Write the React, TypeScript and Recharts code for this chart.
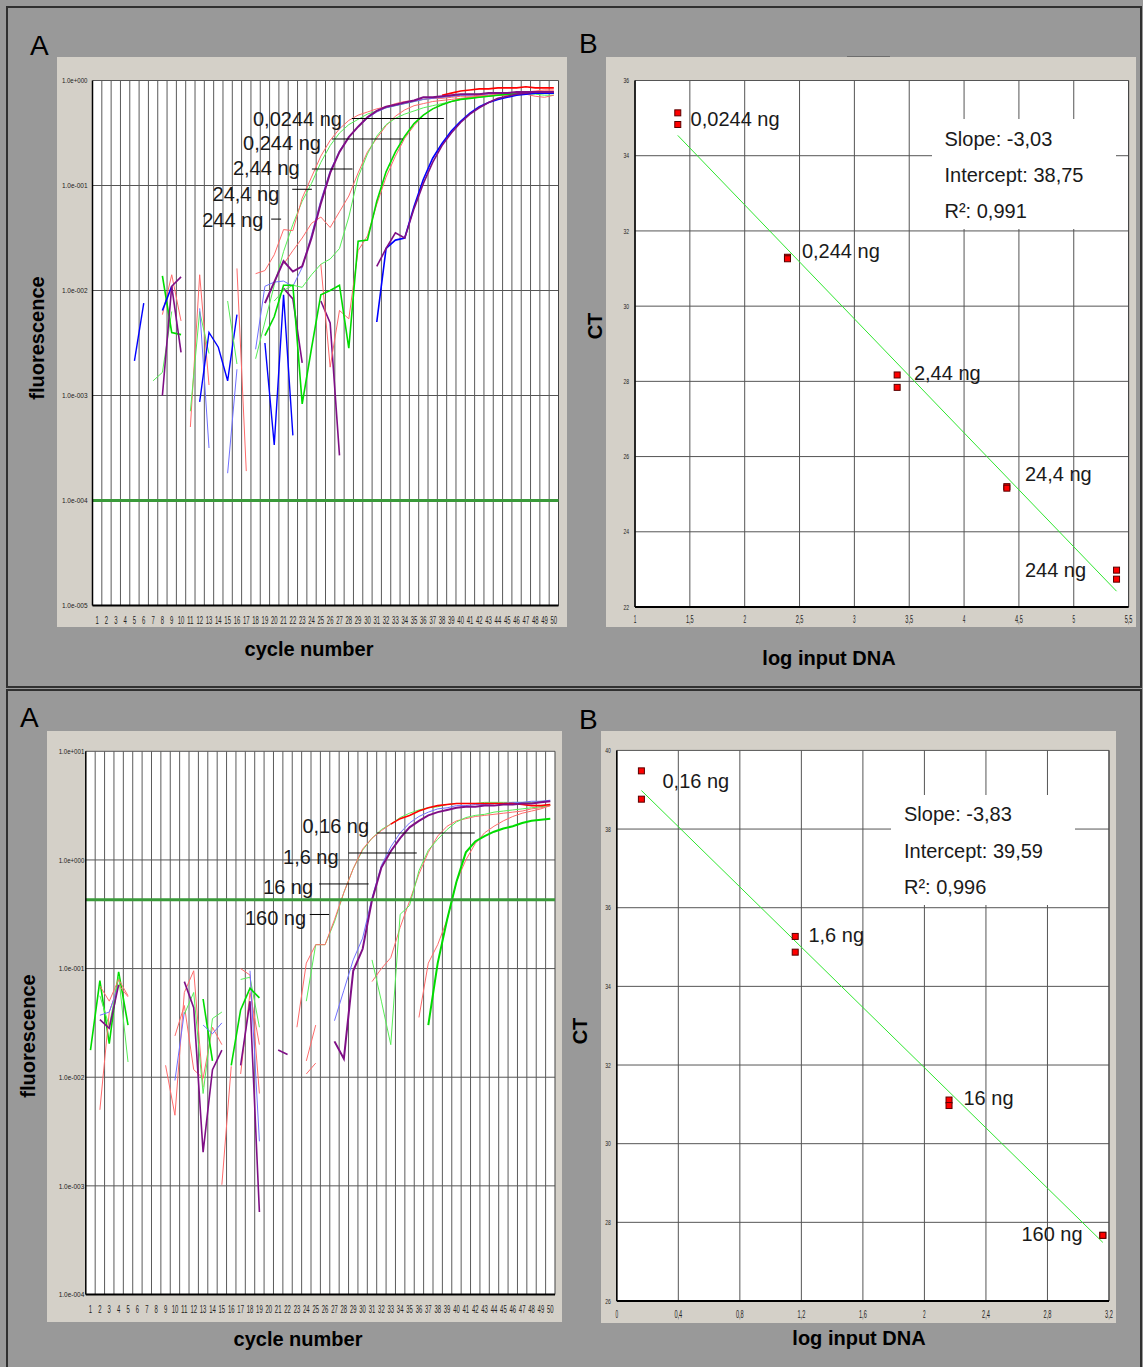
import React from 'react';
import { ComposedChart, Line, Scatter, XAxis, YAxis, CartesianGrid, ReferenceLine } from 'recharts';

const FONT = '"Liberation Sans", Arial, Helvetica, sans-serif';

// ---------- shared categories ----------
const cycles: number[] = Array.from({ length: 50 }, (_, i) => i + 1);
const cycleTickLabels: string[] = cycles.map(String);

// ---------- colours ----------
const RED = '#ff0000';
const RED_T = '#ff6a6a';
const GREEN = '#00dc00';
const GREEN_T = '#55ee55';
const BLUE = '#0000ff';
const BLUE_T = '#6f6fff';
const PURPLE = '#7f0f86';

// =============== TOP PANEL A (amplification, log10 fluorescence) ===============
const topATicks = [1e-5, 1e-4, 1e-3, 1e-2, 1e-1, 1];
const topATickLabels = ['1.0e-005', '1.0e-004', '1.0e-003', '1.0e-002', '1.0e-001', '1.0e+000'];
const topAThreshold = 1e-4;

// main curves (log10 of fluorescence), first value at the given start cycle
const topA_G244 = [-2.65, -2.3, -1.95, -1.63, -1.37, -1.15, -0.98, -0.78, -0.62, -0.5, -0.42, -0.37, -0.32, -0.29, -0.26, -0.24, -0.22, -0.2, -0.18, -0.17, -0.16, -0.15, -0.14, -0.13, -0.13, -0.12, -0.12, -0.12, -0.12, -0.13, -0.13, -0.14, -0.14];
const topA_R244 = [-1.84, -1.81, -1.66, -1.42, -1.43, -1.12, -0.92, -0.72, -0.57, -0.46, -0.38, -0.33, -0.3, -0.27, -0.25, -0.22, -0.2, -0.19, -0.18, -0.17, -0.17, -0.16, -0.15, -0.15, -0.14, -0.14, -0.14, -0.14, -0.13, -0.13, -0.15, -0.16, -0.14];
const topA_P24 = [-2.12, -1.92, -1.72, -1.82, -1.77, -1.5, -1.17, -0.88, -0.68, -0.54, -0.44, -0.35, -0.29, -0.25, -0.23, -0.21, -0.19, -0.16, -0.16, -0.15, -0.14, -0.13, -0.13, -0.13, -0.12, -0.12, -0.12, -0.11, -0.11, -0.11, -0.11, -0.11];
const topA_B24 = [-2.56, -1.96, -1.92, -1.91, -1.96, -1.78, -1.47, -1.14, -0.86, -0.67, -0.54, -0.44, -0.36, -0.3, -0.26, -0.24, -0.22, -0.2, -0.18, -0.17, -0.16, -0.15, -0.14, -0.14, -0.13, -0.13, -0.13, -0.12, -0.12, -0.12, -0.12, -0.12, -0.12];
const topA_R2 = [-1.75, -1.62, -1.5, -1.36, -1.3, -1.4, -1.25, -1.1, -0.88, -0.68, -0.55, -0.43, -0.34, -0.28, -0.24, -0.22, -0.2, -0.19, -0.18, -0.17, -0.16, -0.15, -0.14, -0.13, -0.12, -0.12, -0.11, -0.1, -0.09, -0.09];
const topA_G2 = [-2.1, -2.0, -1.95, -1.97, -1.85, -1.75, -1.7, -1.6, -1.3, -0.92, -0.7, -0.53, -0.42, -0.36, -0.32, -0.29, -0.26, -0.24, -0.22, -0.2, -0.18, -0.17, -0.16, -0.15, -0.14, -0.13, -0.13, -0.12, -0.12, -0.12, -0.12];
const topA_G0244 = [-2.43, -2.25, -1.95, -1.95, -3.08, -2.55, -2.04, -2.0, -1.95, -2.55, -1.53, -1.52, -1.15, -0.87, -0.68, -0.53, -0.41, -0.33, -0.27, -0.23, -0.2, -0.18, -0.17, -0.16, -0.15, -0.14, -0.13, -0.13, -0.12, -0.12, -0.12, -0.12];
const topA_R0244 = [-1.75, -2.73, -2.19, -2.27, -1.62, -1.48, -1.18, -0.92, -0.72, -0.55, -0.43, -0.33, -0.27, -0.23, -0.2, -0.18, -0.16, -0.15, -0.15, -0.14, -0.14, -0.13, -0.12, -0.11, -0.1, -0.1];
const topA_B00244 = [-2.3, -1.6, -1.52, -1.5, -1.2, -0.94, -0.74, -0.6, -0.48, -0.39, -0.31, -0.25, -0.21, -0.18, -0.16, -0.14, -0.13, -0.12, -0.12, -0.12];
const topA_P00244 = [-1.77, -1.6, -1.45, -1.5, -1.22, -0.98, -0.78, -0.62, -0.5, -0.4, -0.32, -0.26, -0.21, -0.17, -0.15, -0.13, -0.12, -0.11, -0.11, -0.11];
const topA_Rtop = [-0.14, -0.12, -0.1, -0.09, -0.08, -0.08, -0.07, -0.07, -0.07, -0.06, -0.07, -0.07, -0.07];

// noisy early fragments
const topA_nBlue1 = [-2.67, -2.12];
const topA_nPurple1 = [-3.0, -1.96, -1.87];
const topA_nPurple2 = [-1.96, -2.59];
const topA_nBlue2 = [-2.19, -1.96];
const topA_nGreen1 = [-1.86, -2.4, -2.42];
const topA_nGreenT1 = [-2.86, -2.78, -2.2];
const topA_nRedT1 = [-2.23, -1.85, -2.29];
const topA_nRedT2 = [-3.3, -1.85, -2.9];
const topA_nGreenT2 = [-3.15, -2.2, -2.6];
const topA_nBlue3 = [-3.06, -2.4, -2.54, -2.86, -2.23];
const topA_nBlueT1 = [-2.17, -3.5];
const topA_nRedT3 = [-1.79, -3.72];
const topA_nBlueT2 = [-3.74, -2.75];
const topA_nGreenT3 = [-2.1, -2.7];
const topA_nBlue4 = [-2.5, -3.47, -2.04, -3.38];
const topA_nPurple3 = [-1.98, -2.08, -2.69];
const topA_nPurple4 = [-2.1, -2.31, -3.57];

// curve annotations
const topALabelText = ['0,0244 ng', '0,244 ng', '2,44 ng', '24,4 ng', '244 ng'];
const topALabelCycle = [27.27, 25.01, 22.73, 20.54, 18.83];
const topALabelLog = [-0.367, -0.595, -0.833, -1.078, -1.329];
const topALeaderFrom = [28.33, 26.19, 24.04, 21.93, 19.67];
const topALeaderTo = [38.2, 33.8, 28.4, 24.04, 20.74];
const topALeaderLog = [-0.362, -0.557, -0.843, -1.036, -1.32];

// =============== TOP PANEL B (standard curve) ===============
const topBX = [1.39, 1.39, 2.39, 2.39, 3.39, 3.39, 4.39, 4.39, 5.39, 5.39];
const topBCT = [35.14, 34.83, 31.3, 31.26, 28.17, 27.84, 25.2, 25.16, 22.98, 22.74];
const topBFitX = [1.39, 5.39];
const topBFitY = [34.54, 22.42];
const topBXTicks = [1, 1.5, 2, 2.5, 3, 3.5, 4, 4.5, 5, 5.5];
const topBXTickLabels = ['1', '1,5', '2', '2,5', '3', '3,5', '4', '4,5', '5', '5,5'];
const topBYTicks = [22, 24, 26, 28, 30, 32, 34, 36];
const topBYTickLabels = ['22', '24', '26', '28', '30', '32', '34', '36'];
const topBLabelText = ['0,0244 ng', '0,244 ng', '2,44 ng', '24,4 ng', '244 ng'];
const topBLabelX = [1.507, 2.522, 3.543, 4.555, 4.555];
const topBLabelY = [34.98, 31.47, 28.22, 25.53, 22.98];
const topBStats = ['Slope: -3,03', 'Intercept: 38,75', 'R\u00b2: 0,991'];

// =============== BOTTOM PANEL A ===============
const botATicks = [1e-4, 1e-3, 1e-2, 1e-1, 1, 10];
const botATickLabels = ['1.0e-004', '1.0e-003', '1.0e-002', '1.0e-001', '1.0e+000', '1.0e+001'];
const botAThreshold = 0.43;

const botA_G160 = [-1.3, -0.78, -0.78, -0.57, -0.3, -0.08, 0.09, 0.2, 0.28, 0.33, 0.39, 0.43, 0.46, 0.48, 0.49, 0.51, 0.52, 0.52, 0.52, 0.53, 0.53, 0.53, 0.53, 0.53, 0.53, 0.54, 0.54];
const botA_R160 = [-1.54, -0.95, -0.78, -0.78, -0.55, -0.3, -0.08, 0.1, 0.2, 0.27, 0.33];
const botA_R160top = [0.33, 0.38, 0.41, 0.45, 0.48, 0.5, 0.51, 0.52, 0.52, 0.52, 0.52, 0.52, 0.52, 0.52, 0.51, 0.5, 0.5, 0.51];
const botA_P16 = [-1.67, -1.83, -1.02, -0.82, -0.37, -0.07, 0.08, 0.2, 0.3, 0.36, 0.41, 0.44, 0.46, 0.48, 0.49, 0.49, 0.5, 0.5, 0.51, 0.51, 0.52, 0.52, 0.53, 0.54];
const botA_B16 = [-1.48, -1.2, -0.92, -0.72, -0.35, -0.05, 0.12, 0.25, 0.34, 0.4, 0.44, 0.47, 0.48, 0.5, 0.5, 0.51, 0.51, 0.52, 0.52, 0.53, 0.53, 0.54, 0.54, 0.55];
const botA_R1_6 = [-1.12, -1.0, -0.9, -0.62, -0.38, -0.13, 0.07, 0.22, 0.31, 0.36, 0.38, 0.4, 0.41, 0.42, 0.43, 0.44, 0.45, 0.47, 0.48, 0.5];
const botA_G1_6 = [-0.92, -1.3, -1.7, -0.5, -0.42, -0.1, 0.09, 0.19, 0.28, 0.35, 0.39, 0.41, 0.42, 0.44, 0.45, 0.46, 0.47, 0.48, 0.49, 0.5];
const botA_R016 = [-1.45, -0.95, -0.78, -0.55, -0.2, 0.0, 0.15, 0.25, 0.31, 0.36, 0.4, 0.43, 0.45, 0.47, 0.5];
const botA_G016 = [-1.52, -0.95, -0.55, -0.2, 0.07, 0.17, 0.22, 0.26, 0.29, 0.31, 0.34, 0.36, 0.37, 0.38];

const botA_nGreen1 = [-1.75, -1.11, -1.69, -1.03, -1.52];
const botA_nGreenT1 = [-1.25, -1.53, -1.07, -1.86];
const botA_nRedT1 = [-2.3, -1.4, -1.15, -1.26];
const botA_nRedT2 = [-1.16, -1.3, -1.1, -1.25];
const botA_nBlueT1 = [-1.43, -1.4, -1.15];
const botA_nPurple1 = [-1.47, -1.55, -1.15];
const botA_nPurple2 = [-1.12, -1.36, -2.69, -1.93, -1.75];
const botA_nBlueT2 = [-2.03, -1.4];
const botA_nRedT3 = [-1.89, -2.35, -1.22, -1.02, -2.09];
const botA_nRedT4 = [-1.62, -1.34, -1.93, -2.01, -1.54, -1.7];
const botA_nGreenT2 = [-1.42, -1.22, -2.15, -1.46, -1.4];
const botA_nGreen2 = [-1.28, -1.85];
const botA_nBlueT3 = [-1.52, -1.6, -1.5];
const botA_nRedT5 = [-2.99, -1.9];
const botA_nGreen3 = [-1.89, -1.38, -1.18, -1.27];
const botA_nPurple3 = [-1.89, -1.3, -3.24];
const botA_nRedT6 = [-1.0, -1.06, -2.15];
const botA_nRedT7 = [-1.97, -1.22, -1.7];
const botA_nBlueT4 = [-1.02, -2.59];
const botA_nGreenT3 = [-1.1, -1.08, -1.54];
const botA_nPurple4 = [-1.75, -1.79];
const botA_nRedT8 = [-1.85, -1.52];
const botA_nRedT9 = [-1.97, -1.87];

const botALabelText = ['0,16 ng', '1,6 ng', '16 ng', '160 ng'];
const botALabelCycle = [30.69, 27.44, 24.72, 23.97];
const botALabelLog = [0.312, 0.027, -0.249, -0.534];
const botALeaderFrom = [31.54, 28.5, 25.36, 24.37];
const botALeaderTo = [41.95, 35.77, 30.64, 26.43];
const botALeaderLog = [0.248, 0.064, -0.221, -0.502];

// =============== BOTTOM PANEL B ===============
const botBX = [0.16, 0.16, 1.16, 1.16, 2.16, 2.16, 3.16, 3.16];
const botBCT = [39.48, 38.76, 35.27, 34.87, 31.11, 30.97, 27.67, 27.67];
const botBFitX = [0.16, 3.16];
const botBFitY = [38.98, 27.49];
const botBXTicks = [0, 0.4, 0.8, 1.2, 1.6, 2, 2.4, 2.8, 3.2];
const botBXTickLabels = ['0', '0,4', '0,8', '1,2', '1,6', '2', '2,4', '2,8', '3,2'];
const botBYTicks = [26, 28, 30, 32, 34, 36, 38, 40];
const botBYTickLabels = ['26', '28', '30', '32', '34', '36', '38', '40'];
const botBLabelText = ['0,16 ng', '1,6 ng', '16 ng', '160 ng'];
const botBLabelX = [0.297, 1.246, 2.254, 2.631];
const botBLabelY = [39.21, 35.31, 31.16, 27.7];
const botBStats = ['Slope: -3,83', 'Intercept: 39,59', 'R\u00b2: 0,996'];

// ---------- series tables ----------
type S = { key: string; from: number; logs: number[]; color: string; width: number };
const THIN = 1;
const THICK = 2;

const topASeries: S[] = [
  { key: 'nB1', from: 5, logs: topA_nBlue1, color: BLUE, width: THIN + 0.4 },
  { key: 'nGT1', from: 7, logs: topA_nGreenT1, color: GREEN_T, width: THIN },
  { key: 'nRT1', from: 8, logs: topA_nRedT1, color: RED_T, width: THIN },
  { key: 'nG1', from: 8, logs: topA_nGreen1, color: GREEN, width: THICK - 0.4 },
  { key: 'nB2', from: 8, logs: topA_nBlue2, color: BLUE, width: THICK - 0.4 },
  { key: 'nP1', from: 8, logs: topA_nPurple1, color: PURPLE, width: THICK - 0.4 },
  { key: 'nP2', from: 9, logs: topA_nPurple2, color: PURPLE, width: THICK - 0.4 },
  { key: 'nRT2', from: 11, logs: topA_nRedT2, color: RED_T, width: THIN },
  { key: 'nGT2', from: 11, logs: topA_nGreenT2, color: GREEN_T, width: THIN },
  { key: 'nBT1', from: 12, logs: topA_nBlueT1, color: BLUE_T, width: THIN },
  { key: 'nB3', from: 12, logs: topA_nBlue3, color: BLUE, width: THIN + 0.4 },
  { key: 'nRT3', from: 16, logs: topA_nRedT3, color: RED_T, width: THIN },
  { key: 'nBT2', from: 15, logs: topA_nBlueT2, color: BLUE_T, width: THIN },
  { key: 'nGT3', from: 15, logs: topA_nGreenT3, color: GREEN_T, width: THIN },
  { key: 'nB4', from: 19, logs: topA_nBlue4, color: BLUE, width: THIN + 0.4 },
  { key: 'nP3', from: 21, logs: topA_nPurple3, color: PURPLE, width: THICK - 0.4 },
  { key: 'nP4', from: 25, logs: topA_nPurple4, color: PURPLE, width: THICK - 0.4 },
  { key: 'G244', from: 18, logs: topA_G244, color: GREEN_T, width: THIN },
  { key: 'R244', from: 18, logs: topA_R244, color: RED_T, width: THIN },
  { key: 'B24', from: 18, logs: topA_B24, color: BLUE_T, width: THIN },
  { key: 'R2', from: 21, logs: topA_R2, color: RED_T, width: THIN },
  { key: 'G2', from: 20, logs: topA_G2, color: GREEN_T, width: THIN },
  { key: 'R0244', from: 25, logs: topA_R0244, color: RED_T, width: THIN },
  { key: 'G0244', from: 19, logs: topA_G0244, color: GREEN, width: THICK - 0.4 },
  { key: 'B00244', from: 31, logs: topA_B00244, color: BLUE, width: THICK - 0.4 },
  { key: 'P00244', from: 31, logs: topA_P00244, color: PURPLE, width: THICK - 0.4 },
  { key: 'Rtop', from: 38, logs: topA_Rtop, color: RED, width: THICK - 0.4 },
  { key: 'P24', from: 19, logs: topA_P24, color: PURPLE, width: THICK },
];

const botASeries: S[] = [
  { key: 'nG1', from: 1, logs: botA_nGreen1, color: GREEN, width: THICK - 0.4 },
  { key: 'nGT1', from: 2, logs: botA_nGreenT1, color: GREEN_T, width: THIN },
  { key: 'nRT1', from: 2, logs: botA_nRedT1, color: RED_T, width: THIN },
  { key: 'nRT2', from: 2, logs: botA_nRedT2, color: RED_T, width: THIN },
  { key: 'nBT1', from: 2, logs: botA_nBlueT1, color: BLUE_T, width: THIN },
  { key: 'nP1', from: 2, logs: botA_nPurple1, color: PURPLE, width: THICK - 0.4 },
  { key: 'nRT3', from: 9, logs: botA_nRedT3, color: RED_T, width: THIN },
  { key: 'nRT4', from: 10, logs: botA_nRedT4, color: RED_T, width: THIN },
  { key: 'nBT2', from: 10, logs: botA_nBlueT2, color: BLUE_T, width: THIN },
  { key: 'nGT2', from: 11, logs: botA_nGreenT2, color: GREEN_T, width: THIN },
  { key: 'nG2', from: 13, logs: botA_nGreen2, color: GREEN, width: THICK - 0.4 },
  { key: 'nBT3', from: 13, logs: botA_nBlueT3, color: BLUE_T, width: THIN },
  { key: 'nP2', from: 11, logs: botA_nPurple2, color: PURPLE, width: THICK - 0.4 },
  { key: 'nRT5', from: 15, logs: botA_nRedT5, color: RED_T, width: THIN },
  { key: 'nRT6', from: 17, logs: botA_nRedT6, color: RED_T, width: THIN },
  { key: 'nRT7', from: 17, logs: botA_nRedT7, color: RED_T, width: THIN },
  { key: 'nGT3', from: 17, logs: botA_nGreenT3, color: GREEN_T, width: THIN },
  { key: 'nBT4', from: 18, logs: botA_nBlueT4, color: BLUE_T, width: THIN },
  { key: 'nG3', from: 16, logs: botA_nGreen3, color: GREEN, width: THICK - 0.4 },
  { key: 'nP3', from: 17, logs: botA_nPurple3, color: PURPLE, width: THICK - 0.4 },
  { key: 'nP4', from: 21, logs: botA_nPurple4, color: PURPLE, width: THICK - 0.4 },
  { key: 'nRT8', from: 24, logs: botA_nRedT8, color: RED_T, width: THIN },
  { key: 'nRT9', from: 24, logs: botA_nRedT9, color: RED_T, width: THIN },
  { key: 'G160', from: 24, logs: botA_G160, color: GREEN_T, width: THIN },
  { key: 'R160', from: 23, logs: botA_R160, color: RED_T, width: THIN },
  { key: 'B16', from: 27, logs: botA_B16, color: BLUE_T, width: THIN },
  { key: 'R1_6', from: 31, logs: botA_R1_6, color: RED_T, width: THIN },
  { key: 'G1_6', from: 31, logs: botA_G1_6, color: GREEN_T, width: THIN },
  { key: 'R016', from: 36, logs: botA_R016, color: RED_T, width: THIN },
  { key: 'R160top', from: 33, logs: botA_R160top, color: RED, width: THICK - 0.4 },
  { key: 'P16', from: 27, logs: botA_P16, color: PURPLE, width: THICK },
  { key: 'G016', from: 37, logs: botA_G016, color: GREEN, width: THICK },
];

const buildRows = (series: S[]) =>
  cycles.map((c) => {
    const row: any = { cycle: c };
    for (const s of series) {
      const i = c - s.from;
      row[s.key] = i >= 0 && i < s.logs.length ? Math.pow(10, s.logs[i]) : null;
    }
    return row;
  });

const halfLines = cycles.slice(0, -1).map((c) => c + 0.5);

// ---------- tick renderers ----------
const makeYTick = (ticks: number[], labels: string[], gap: number, len: number, size: number) => (p: any) => {
  let idx = ticks.indexOf(p.payload.value);
  if (idx < 0) idx = p.index;
  const lab = labels[idx] ?? String(p.payload.value);
  return (
    <text x={p.x - gap} y={p.y + size * 0.36} textAnchor="end" fontSize={size} fontFamily={FONT} fill="#222"
      textLength={len * lab.length} lengthAdjust="spacingAndGlyphs">{lab}</text>
  );
};
const makeXTick = (ticks: number[], labels: string[], dy: number, len: number, size: number) => (p: any) => {
  let idx = ticks.indexOf(p.payload.value);
  if (idx < 0) idx = p.index;
  const lab = labels[idx] ?? String(p.payload.value);
  return (
    <text x={p.x} y={p.y + dy} textAnchor="middle" fontSize={size} fontFamily={FONT} fill="#222"
      textLength={len * lab.length} lengthAdjust="spacingAndGlyphs">{lab}</text>
  );
};

// ---------- amplification chart ----------
type AmpProps = {
  left: number; top: number; width: number; height: number;
  yAxisWidth: number; xAxisHeight: number; mTop: number; mRight: number;
  ticks: number[]; tickLabels: string[]; series: S[]; threshold: number;
  labelText: string[]; labelCycle: number[]; labelLog: number[];
  leaderFrom: number[]; leaderTo: number[]; leaderLog: number[];
  yGap: number; xDy: number;
};

function AmpChart(p: AmpProps) {
  const rows = buildRows(p.series);
  const labelData = p.labelText.map((t, i) => ({ cycle: p.labelCycle[i], v: Math.pow(10, p.labelLog[i]), text: t }));
  const dom: [number, number] = [p.ticks[0], p.ticks[p.ticks.length - 1]];
  return (
    <div style={{ position: 'absolute', left: p.left, top: p.top, width: p.width, height: p.height, background: '#d4d0c8' }}>
      <ComposedChart width={p.width} height={p.height} data={rows}
        margin={{ top: p.mTop, right: p.mRight, bottom: 0, left: 0 }}>
        <CartesianGrid vertical={false} stroke="#555" fill="#ffffff" fillOpacity={1} />
        {halfLines.map((h) => (
          <ReferenceLine key={'v' + h} x={h} stroke="#5a5a5a" strokeWidth={1} />
        ))}
        <ReferenceLine x={50.5} stroke="#444" strokeWidth={1} />
        <XAxis dataKey="cycle" type="number" domain={[0.5, 50.5]} ticks={cycles} interval={0}
          height={p.xAxisHeight} tickSize={0} tickMargin={0} tickLine={false}
          axisLine={{ stroke: '#000', strokeWidth: 2 }}
          tick={makeXTick(cycles, cycleTickLabels, p.xDy, 3.3, 10)} />
        <YAxis type="number" scale="log" domain={dom} ticks={p.ticks} allowDataOverflow interval={0}
          width={p.yAxisWidth} tickSize={0} tickMargin={0} tickLine={false}
          axisLine={{ stroke: '#000', strokeWidth: 1.5 }}
          tick={makeYTick(p.ticks, p.tickLabels, p.yGap, 3.2, 8)} />
        {p.series.map((s) => (
          <Line key={s.key} dataKey={s.key} type="linear" stroke={s.color} strokeWidth={s.width}
            dot={false} activeDot={false} connectNulls={false} isAnimationActive={false} />
        ))}
        <ReferenceLine y={p.threshold} stroke="#3a9a3a" strokeWidth={3} />
        {p.leaderFrom.map((a, i) => (
          <ReferenceLine key={'ld' + i} stroke="#000" strokeWidth={1}
            segment={[{ x: a, y: Math.pow(10, p.leaderLog[i]) }, { x: p.leaderTo[i], y: Math.pow(10, p.leaderLog[i]) }]} />
        ))}
        <Scatter data={labelData} dataKey="v" isAnimationActive={false}
          shape={(sp: any) => (
            <text x={sp.cx} y={sp.cy} textAnchor="end" dominantBaseline="central" fontSize={20}
              fontFamily={FONT} fill="#1a1a1a">{sp.payload.text}</text>
          )} />
      </ComposedChart>
    </div>
  );
}

// ---------- standard-curve chart ----------
type StdProps = {
  left: number; top: number; width: number; height: number;
  yAxisWidth: number; xAxisHeight: number; mTop: number; mRight: number;
  px: number[]; py: number[]; fitX: number[]; fitY: number[];
  xTicks: number[]; xTickLabels: string[]; yTicks: number[]; yTickLabels: string[];
  labelText: string[]; labelX: number[]; labelY: number[];
  xDy: number;
};

function StdChart(p: StdProps) {
  const fit = p.fitX.map((x, i) => ({ x, y: p.fitY[i] }));
  const pts = p.px.map((x, i) => ({ x, y: p.py[i] }));
  const labs = p.labelText.map((t, i) => ({ x: p.labelX[i], y: p.labelY[i], text: t }));
  const xd: [number, number] = [p.xTicks[0], p.xTicks[p.xTicks.length - 1]];
  const yd: [number, number] = [p.yTicks[0], p.yTicks[p.yTicks.length - 1]];
  return (
    <div style={{ position: 'absolute', left: p.left, top: p.top, width: p.width, height: p.height, background: '#d4d0c8' }}>
      <ComposedChart width={p.width} height={p.height} data={fit}
        margin={{ top: p.mTop, right: p.mRight, bottom: 0, left: 0 }}>
        <CartesianGrid stroke="#555" fill="#ffffff" fillOpacity={1} />
        <ReferenceLine x={xd[1]} stroke="#444" strokeWidth={1} />
        <XAxis dataKey="x" type="number" domain={xd} ticks={p.xTicks} interval={0}
          height={p.xAxisHeight} tickSize={0} tickMargin={0} tickLine={false}
          axisLine={{ stroke: '#000', strokeWidth: 2 }}
          tick={makeXTick(p.xTicks, p.xTickLabels, p.xDy, 2.6, 10.5)} />
        <YAxis type="number" domain={yd} ticks={p.yTicks} interval={0} allowDataOverflow
          width={p.yAxisWidth} tickSize={0} tickMargin={0} tickLine={false}
          axisLine={{ stroke: '#000', strokeWidth: 1.5 }}
          tick={makeYTick(p.yTicks, p.yTickLabels, 6, 2.8, 7.5)} />
        <Line dataKey="y" type="linear" stroke="#2fe62f" strokeWidth={1} dot={false} activeDot={false}
          isAnimationActive={false} />
        <Scatter data={pts} dataKey="y" isAnimationActive={false}
          shape={(sp: any) => (
            <rect x={sp.cx - 3} y={sp.cy - 3} width={6} height={6} fill="#ff0000" stroke="#5a0000" strokeWidth={1} />
          )} />
        <Scatter data={labs} dataKey="y" isAnimationActive={false}
          shape={(sp: any) => (
            <text x={sp.cx} y={sp.cy} textAnchor="start" dominantBaseline="central" fontSize={20}
              fontFamily={FONT} fill="#1a1a1a">{sp.payload.text}</text>
          )} />
      </ComposedChart>
    </div>
  );
}

export default function App() {
  return (
    <div style={{ position: 'absolute', left: 0, top: 0, width: 1143, height: 1367, background: '#999999', overflow: 'hidden', fontFamily: FONT }}>
      <style>{'.recharts-surface{overflow:visible}'}</style>
      {/* panel frames */}
      <div style={{ position: 'absolute', left: 6, top: 6, width: 1136, height: 682, border: '2px solid #303030', boxSizing: 'border-box' }} />
      <div style={{ position: 'absolute', left: 6, top: 689, width: 1136, height: 700, border: '2px solid #303030', boxSizing: 'border-box' }} />

      <AmpChart left={57} top={57} width={510} height={570} yAxisWidth={35.5} xAxisHeight={21.5} mTop={23.5} mRight={8.5}
        ticks={topATicks} tickLabels={topATickLabels} series={topASeries} threshold={topAThreshold}
        labelText={topALabelText} labelCycle={topALabelCycle} labelLog={topALabelLog}
        leaderFrom={topALeaderFrom} leaderTo={topALeaderTo} leaderLog={topALeaderLog}
        yGap={5} xDy={18} />

      <div style={{ position: 'absolute', left: 847, top: 56, width: 43, height: 2, background: '#6e6e6e' }} />
      <StdChart left={606} top={57} width={530} height={570} yAxisWidth={29} xAxisHeight={20} mTop={23.5} mRight={7.4}
        px={topBX} py={topBCT} fitX={topBFitX} fitY={topBFitY}
        xTicks={topBXTicks} xTickLabels={topBXTickLabels} yTicks={topBYTicks} yTickLabels={topBYTickLabels}
        labelText={topBLabelText} labelX={topBLabelX} labelY={topBLabelY} xDy={16} />

      <AmpChart left={47} top={731} width={514.6} height={591} yAxisWidth={38.8} xAxisHeight={27.5} mTop={20.3} mRight={6.6}
        ticks={botATicks} tickLabels={botATickLabels} series={botASeries} threshold={botAThreshold}
        labelText={botALabelText} labelCycle={botALabelCycle} labelLog={botALabelLog}
        leaderFrom={botALeaderFrom} leaderTo={botALeaderTo} leaderLog={botALeaderLog}
        yGap={1.5} xDy={18.5} />

      <StdChart left={600.5} top={731} width={515.2} height={591.5} yAxisWidth={15.8} xAxisHeight={21.5} mTop={19.4} mRight={7.2}
        px={botBX} py={botBCT} fitX={botBFitX} fitY={botBFitY}
        xTicks={botBXTicks} xTickLabels={botBXTickLabels} yTicks={botBYTicks} yTickLabels={botBYTickLabels}
        labelText={botBLabelText} labelX={botBLabelX} labelY={botBLabelY} xDy={17} />

      {/* text overlay */}
      <svg width={1143} height={1367} style={{ position: 'absolute', left: 0, top: 0, pointerEvents: 'none' }}>
        <g fontFamily={FONT} fill="#000">
          <text x={30} y={55} fontSize={28}>A</text>
          <text x={579} y={53} fontSize={28}>B</text>
          <text x={20} y={727} fontSize={28}>A</text>
          <text x={579} y={729} fontSize={28}>B</text>

          <text transform="translate(44,338) rotate(-90)" textAnchor="middle" fontSize={20} fontWeight="bold">fluorescence</text>
          <text x={309} y={656} textAnchor="middle" fontSize={20} fontWeight="bold">cycle number</text>
          <text transform="translate(602,326) rotate(-90)" textAnchor="middle" fontSize={20} fontWeight="bold">CT</text>
          <text x={829} y={665} textAnchor="middle" fontSize={20} fontWeight="bold">log input DNA</text>

          <text transform="translate(35,1036) rotate(-90)" textAnchor="middle" fontSize={20} fontWeight="bold">fluorescence</text>
          <text x={298} y={1346} textAnchor="middle" fontSize={20} fontWeight="bold">cycle number</text>
          <text transform="translate(587,1031) rotate(-90)" textAnchor="middle" fontSize={20} fontWeight="bold">CT</text>
          <text x={859} y={1345} textAnchor="middle" fontSize={20} fontWeight="bold">log input DNA</text>
        </g>
        <rect x={932} y={119} width={184} height={110} fill="#ffffff" />
        <g fontFamily={FONT} fontSize={20} fill="#1a1a1a">
          {topBStats.map((s, i) => (
            <text key={s} x={944.5} y={146 + i * 36}>{s}</text>
          ))}
        </g>
        <rect x={891} y={795} width={184} height={110} fill="#ffffff" />
        <g fontFamily={FONT} fontSize={20} fill="#1a1a1a">
          {botBStats.map((s, i) => (
            <text key={s} x={904} y={821 + i * 36.5}>{s}</text>
          ))}
        </g>
      </svg>
    </div>
  );
}
